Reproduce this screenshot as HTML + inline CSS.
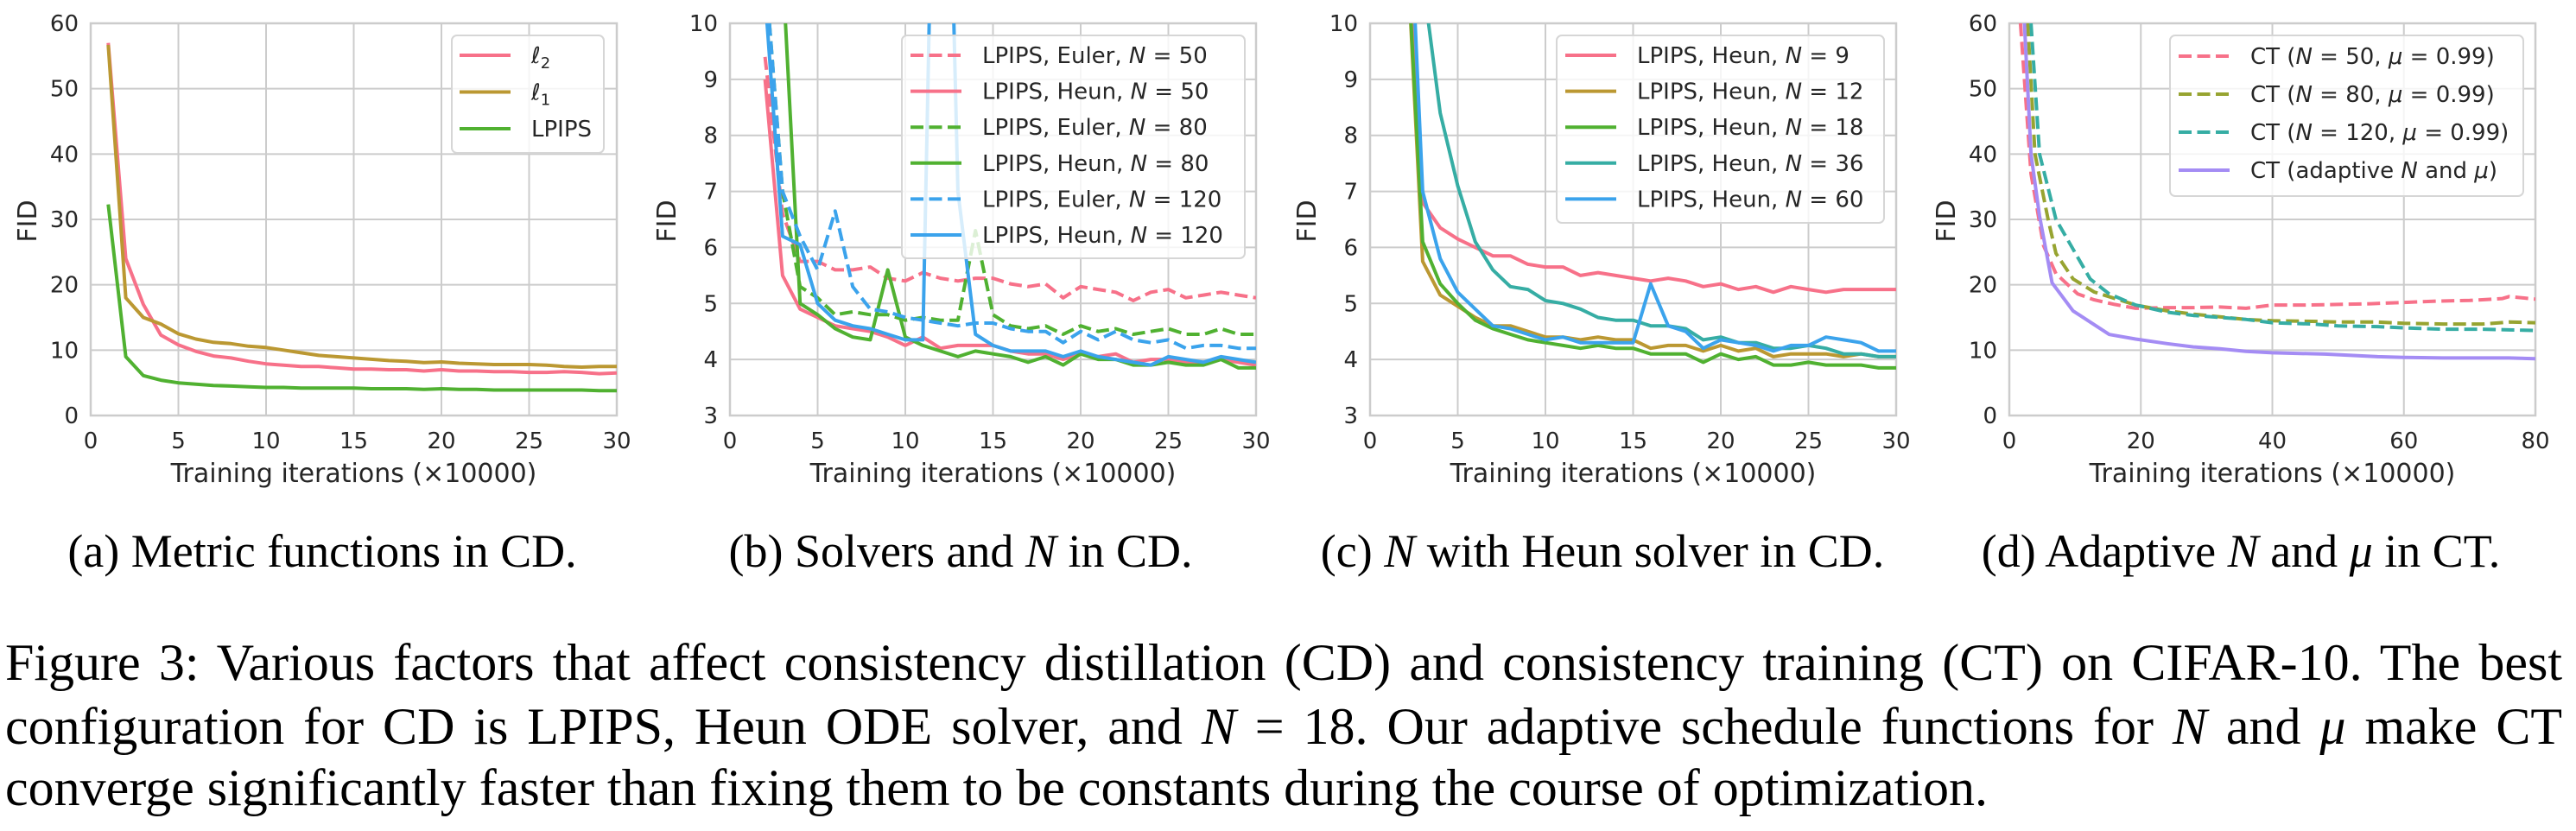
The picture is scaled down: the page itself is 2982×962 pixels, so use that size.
<!DOCTYPE html>
<html><head><meta charset="utf-8">
<style>
html,body{margin:0;padding:0;background:#fff;}
body{width:2982px;height:962px;overflow:hidden;position:relative;}
svg{position:absolute;left:0;top:0;}
.cap{position:absolute;font-family:"Liberation Serif",serif;color:#000;white-space:nowrap;}
.sub{font-size:54px;top:607px;transform:translateX(-50%);}
.line{font-size:60px;left:6px;width:2960px;}
.just{text-align:justify;text-align-last:justify;}
</style></head>
<body>
<svg id="fig" width="2982" height="962" xmlns="http://www.w3.org/2000/svg"></svg>

<div class="cap sub" style="left:373px">(a) Metric functions in CD.</div>
<div class="cap sub" style="left:1112px">(b) Solvers and <i>N</i> in CD.</div>
<div class="cap sub" style="left:1855px">(c) <i>N</i> with Heun solver in CD.</div>
<div class="cap sub" style="left:2594px">(d) Adaptive <i>N</i> and <i>μ</i> in CT.</div>

<div class="cap line just" style="top:733px">Figure 3: Various factors that affect consistency distillation (CD) and consistency training (CT) on CIFAR-10. The best</div>
<div class="cap line just" style="top:807px">configuration for CD is LPIPS, Heun ODE solver, and <i>N</i> = 18. Our adaptive schedule functions for <i>N</i> and <i>μ</i> make CT</div>
<div class="cap line" style="top:878px">converge significantly faster than fixing them to be constants during the course of optimization.</div>

<script>
// ---------- data ----------
const xA = [1,2,3,4,5,6,7,8,9,10,11,12,13,14,15,16,17,18,19,20,21,22,23,24,25,26,27,28,29,30];
const aL2 = [57,24,17,12.3,10.8,9.8,9.1,8.8,8.3,7.9,7.7,7.5,7.5,7.3,7.1,7.1,7,7,6.8,7,6.8,6.8,6.7,6.7,6.6,6.6,6.7,6.6,6.4,6.5];
const aL1 = [56.7,18,15,14,12.5,11.7,11.2,11,10.6,10.4,10,9.6,9.2,9,8.8,8.6,8.4,8.3,8.1,8.2,8,7.9,7.8,7.8,7.8,7.7,7.5,7.4,7.5,7.5];
const aLP = [32.3,9,6.1,5.4,5,4.8,4.6,4.5,4.4,4.3,4.3,4.2,4.2,4.2,4.2,4.1,4.1,4.1,4,4.1,4,4,3.9,3.9,3.9,3.9,3.9,3.9,3.8,3.8];

const xB = [2,3,4,5,6,7,8,9,10,11,12,13,14,15,16,17,18,19,20,21,22,23,24,25,26,27,28,29,30];
const bEuler50 = [9.4,6.6,5.75,5.75,5.6,5.6,5.65,5.45,5.4,5.55,5.45,5.4,5.45,5.45,5.35,5.3,5.35,5.1,5.3,5.25,5.2,5.05,5.2,5.25,5.1,5.15,5.2,5.15,5.1];
const bHeun50 = [9.0,5.5,4.9,4.75,4.6,4.55,4.5,4.4,4.25,4.4,4.2,4.25,4.25,4.25,4.15,4.1,4.1,4.0,4.1,4.05,4.1,3.95,4.0,4.0,3.95,3.95,4.0,3.95,3.9];
const bEuler80 = [11,7.0,5.3,5.1,4.8,4.85,4.8,4.8,4.7,4.75,4.7,4.7,6.3,4.8,4.6,4.55,4.6,4.45,4.6,4.5,4.55,4.45,4.5,4.55,4.45,4.45,4.55,4.45,4.45];
const bHeun80 = [11,11,5.0,4.8,4.55,4.4,4.35,5.6,4.4,4.25,4.15,4.05,4.15,4.1,4.05,3.95,4.05,3.9,4.1,4.0,4.0,3.9,3.9,3.95,3.9,3.9,4.0,3.85,3.85];
const bEuler120 = [11,7.0,6.2,5.6,6.65,5.3,4.9,4.85,4.75,4.7,4.65,4.6,4.65,4.65,4.55,4.5,4.5,4.3,4.5,4.35,4.5,4.35,4.3,4.35,4.2,4.25,4.25,4.2,4.2];
const bHeun120 = [10.5,6.2,6.05,5.0,4.7,4.6,4.55,4.45,4.35,4.35,20,7,4.45,4.25,4.15,4.15,4.15,4.05,4.15,4.05,4.0,3.95,3.9,4.05,4.0,3.95,4.05,4.0,3.95];

const xC = [2,3,4,5,6,7,8,9,10,11,12,13,14,15,16,17,18,19,20,21,22,23,24,25,26,27,28,29,30];
const cN9 = [12,6.8,6.35,6.15,6.0,5.85,5.85,5.7,5.65,5.65,5.5,5.55,5.5,5.45,5.4,5.45,5.4,5.3,5.35,5.25,5.3,5.2,5.3,5.25,5.2,5.25,5.25,5.25,5.25];
const cN12 = [12,5.75,5.15,4.95,4.75,4.6,4.6,4.5,4.4,4.4,4.35,4.4,4.35,4.35,4.2,4.25,4.25,4.15,4.25,4.15,4.2,4.05,4.1,4.1,4.1,4.05,4.1,4.05,4.05];
const cN18 = [12,6.1,5.35,5.0,4.7,4.55,4.45,4.35,4.3,4.25,4.2,4.25,4.2,4.2,4.1,4.1,4.1,3.95,4.1,4.0,4.05,3.9,3.9,3.95,3.9,3.9,3.9,3.85,3.85];
const cN36 = [20,10.8,8.4,7.1,6.1,5.6,5.3,5.25,5.05,5.0,4.9,4.75,4.7,4.7,4.6,4.6,4.55,4.35,4.4,4.3,4.3,4.2,4.2,4.25,4.2,4.1,4.1,4.05,4.05];
const cN60 = [14,7.0,5.8,5.2,4.9,4.6,4.55,4.45,4.35,4.4,4.3,4.3,4.3,4.3,5.35,4.6,4.5,4.2,4.35,4.3,4.25,4.15,4.25,4.25,4.4,4.35,4.3,4.15,4.15];

const xD50 = [1.7,3.3,5.2,7.1,10.4,12.9,16,19.2,24,28,32,36,40,45,50,55,60,65,70,75,76,80];
const dCT50 = [60,37,26,21.7,18.6,17.7,17,16.4,16.5,16.5,16.6,16.4,16.9,16.9,17,17.1,17.3,17.5,17.6,17.9,18.2,17.8];
const xD80 = [2.8,3.9,5.9,7.1,9.7,12.9,19.2,24,28,32,36,40,46,50,56,60,66,72,76,80];
const dCT80 = [60,40,30,24.8,20.9,18.9,16.9,16,15.5,15.1,14.7,14.5,14.4,14.3,14.3,14.1,14,14,14.3,14.2];
const xD120 = [3.3,4.6,7.1,12.3,15.2,19.2,24,28,32,36,40,46,50,56,60,66,72,76,80];
const dCT120 = [60,40,30,20.9,18.6,16.9,15.8,15.3,15,14.7,14.2,14,13.7,13.6,13.4,13.2,13.2,13.1,13];
const xDad = [2.3,3.3,4.6,6.5,9.7,12.3,15.2,19.2,24,28,32,36,40,48,52,56,60,66,72,76,80];
const dAdapt = [60,40,30.5,20.3,16,14.3,12.4,11.7,11,10.5,10.2,9.8,9.6,9.4,9.2,9,8.9,8.8,8.8,8.8,8.7];

const ticksA_y = [0,10,20,30,40,50,60];
const ticksBC_y = [3,4,5,6,7,8,9,10];
const ticks30_x = [0,5,10,15,20,25,30];
const ticks80_x = [0,20,40,60,80];

// ---------- drawing ----------
const NS = "http://www.w3.org/2000/svg";
const svg = document.getElementById('fig');
const PINK="#f77189", GOLD="#bb9832", GREEN="#50b131", TEAL="#36ada4", BLUE="#3ba3ec", OLIVE="#97a431", PURPLE="#a48cf4";
const DASH="15,6.5";
function mk(tag, attrs, parent){
  const e=document.createElementNS(NS,tag);
  for(const k in attrs) e.setAttribute(k,attrs[k]);
  (parent||svg).appendChild(e); return e;
}
const FONT='"DejaVu Sans", "Liberation Sans", sans-serif';

function panel(cfg){
  const g=mk('g',{});
  
  
  const T=27, B=481, L=cfg.left, R=cfg.right;
  const sx=v=>L+(v-cfg.xmin)/(cfg.xmax-cfg.xmin)*(R-L);
  const sy=v=>B-(v-cfg.ymin)/(cfg.ymax-cfg.ymin)*(B-T);
  mk('rect',{x:L,y:T,width:R-L,height:B-T,fill:'#fff'},g);
  cfg.xticks.forEach(t=>{
    const ln=mk('line',{x1:sx(t),x2:sx(t),y1:T,y2:B,stroke:'#cccccc','stroke-width':2},g);
    
    
    const tx=mk('text',{x:sx(t),y:519,'text-anchor':'middle','font-family':FONT,'font-size':26,fill:'#262626'},g);
    tx.textContent=t;
    
    
  });
  cfg.yticks.forEach(t=>{
    const ln=mk('line',{x1:L,x2:R,y1:sy(t),y2:sy(t),stroke:'#cccccc','stroke-width':2},g);
    
    
    const tx=mk('text',{x:L-14,y:sy(t)+9,'text-anchor':'end','font-family':FONT,'font-size':26,fill:'#262626'},g);
    tx.textContent=t;
    
    
  });
  mk('rect',{x:L,y:T,width:R-L,height:B-T,fill:'none',stroke:'#cccccc','stroke-width':2.5},g);
  const cid='clip-'+cfg.name;
  const cp=mk('clipPath',{id:cid},g);
  mk('rect',{x:L,y:T,width:R-L,height:B-T},cp);
  const lg=mk('g',{'clip-path':'url(#'+cid+')'},g);
  cfg.series.forEach(s=>{
    const d=s.x.map((xv,i)=>(i?'L':'M')+sx(xv).toFixed(1)+','+sy(s.y[i]).toFixed(1)).join(' ');
    const p=mk('path',{d:d,fill:'none',stroke:s.c,'stroke-width':4,'stroke-linejoin':'round'},lg);
    if(s.dash) p.setAttribute('stroke-dasharray',DASH);
    
    
  });
  const xl=mk('text',{x:(L+R)/2,y:558,'text-anchor':'middle','font-family':FONT,'font-size':30,fill:'#262626'},g);
  xl.textContent='Training iterations (×10000)';
  
  
  const yl=mk('text',{x:0,y:0,transform:'translate('+(L-63)+',256) rotate(-90)','text-anchor':'middle','font-family':FONT,'font-size':30,fill:'#262626'},g);
  yl.textContent='FID';
  
  
  // legend
  const lgd=cfg.legend;
  const lb=mk('g',{},g);
  
  
  mk('rect',{x:lgd.x1,y:41,width:lgd.x2-lgd.x1,height:lgd.y2-41,rx:6,fill:'#fff','fill-opacity':0.8,stroke:'#d6d6d6','stroke-width':2},lb);
  cfg.series.forEach((s,i)=>{
    const yy=lgd.y0+i*lgd.dy;
    const ln=mk('line',{x1:lgd.lx,x2:lgd.lx+59,y1:yy,y2:yy,stroke:s.c,'stroke-width':4},lb);
    if(s.dash) ln.setAttribute('stroke-dasharray',DASH);
    
    
    const t=mk('text',{x:lgd.lx+83,y:yy+9,'font-family':FONT,'font-size':26,fill:'#262626'},lb);
    t.innerHTML=s.label;
    
    
  });
}
const I=v=>'<tspan font-style="italic">'+v+'</tspan>';

panel({name:'panel-a-metric',left:105,right:714,xmin:0,xmax:30,ymin:0,ymax:60,xticks:ticks30_x,yticks:ticksA_y,
  legend:{x1:523,x2:699,y2:177,lx:532,y0:64,dy:42.5},
  series:[
    {id:'line-l2',x:xA,y:aL2,c:PINK,label:I('ℓ')+'<tspan font-size="18" dy="6">2</tspan>'},
    {id:'line-l1',x:xA,y:aL1,c:GOLD,label:I('ℓ')+'<tspan font-size="18" dy="6">1</tspan>'},
    {id:'line-lpips',x:xA,y:aLP,c:GREEN,label:'LPIPS'}]});

panel({name:'panel-b-solvers',left:845,right:1454,xmin:0,xmax:30,ymin:3,ymax:10,xticks:ticks30_x,yticks:ticksBC_y,
  legend:{x1:1044,x2:1441,y2:299,lx:1054,y0:64,dy:41.6},
  series:[
    {id:'line-euler-50',x:xB,y:bEuler50,c:PINK,dash:true,label:'LPIPS, Euler, '+I('N')+' = 50'},
    {id:'line-heun-50',x:xB,y:bHeun50,c:PINK,label:'LPIPS, Heun, '+I('N')+' = 50'},
    {id:'line-euler-80',x:xB,y:bEuler80,c:GREEN,dash:true,label:'LPIPS, Euler, '+I('N')+' = 80'},
    {id:'line-heun-80',x:xB,y:bHeun80,c:GREEN,label:'LPIPS, Heun, '+I('N')+' = 80'},
    {id:'line-euler-120',x:xB,y:bEuler120,c:BLUE,dash:true,label:'LPIPS, Euler, '+I('N')+' = 120'},
    {id:'line-heun-120',x:xB,y:bHeun120,c:BLUE,label:'LPIPS, Heun, '+I('N')+' = 120'}]});

panel({name:'panel-c-heun',left:1586,right:2195,xmin:0,xmax:30,ymin:3,ymax:10,xticks:ticks30_x,yticks:ticksBC_y,
  legend:{x1:1802,x2:2181,y2:258,lx:1812,y0:64,dy:41.6},
  series:[
    {id:'line-n9',x:xC,y:cN9,c:PINK,label:'LPIPS, Heun, '+I('N')+' = 9'},
    {id:'line-n12',x:xC,y:cN12,c:GOLD,label:'LPIPS, Heun, '+I('N')+' = 12'},
    {id:'line-n18',x:xC,y:cN18,c:GREEN,label:'LPIPS, Heun, '+I('N')+' = 18'},
    {id:'line-n36',x:xC,y:cN36,c:TEAL,label:'LPIPS, Heun, '+I('N')+' = 36'},
    {id:'line-n60',x:xC,y:cN60,c:BLUE,label:'LPIPS, Heun, '+I('N')+' = 60'}]});

panel({name:'panel-d-ct',left:2326,right:2935,xmin:0,xmax:80,ymin:0,ymax:60,xticks:ticks80_x,yticks:ticksA_y,
  legend:{x1:2512,x2:2921,y2:227,lx:2522,y0:65,dy:44},
  series:[
    {id:'line-ct-50',x:xD50,y:dCT50,c:PINK,dash:true,label:'CT ('+I('N')+' = 50, '+I('μ')+' = 0.99)'},
    {id:'line-ct-80',x:xD80,y:dCT80,c:OLIVE,dash:true,label:'CT ('+I('N')+' = 80, '+I('μ')+' = 0.99)'},
    {id:'line-ct-120',x:xD120,y:dCT120,c:TEAL,dash:true,label:'CT ('+I('N')+' = 120, '+I('μ')+' = 0.99)'},
    {id:'line-ct-adaptive',x:xDad,y:dAdapt,c:PURPLE,label:'CT (adaptive '+I('N')+' and '+I('μ')+')'}]});
</script>
</body></html>
